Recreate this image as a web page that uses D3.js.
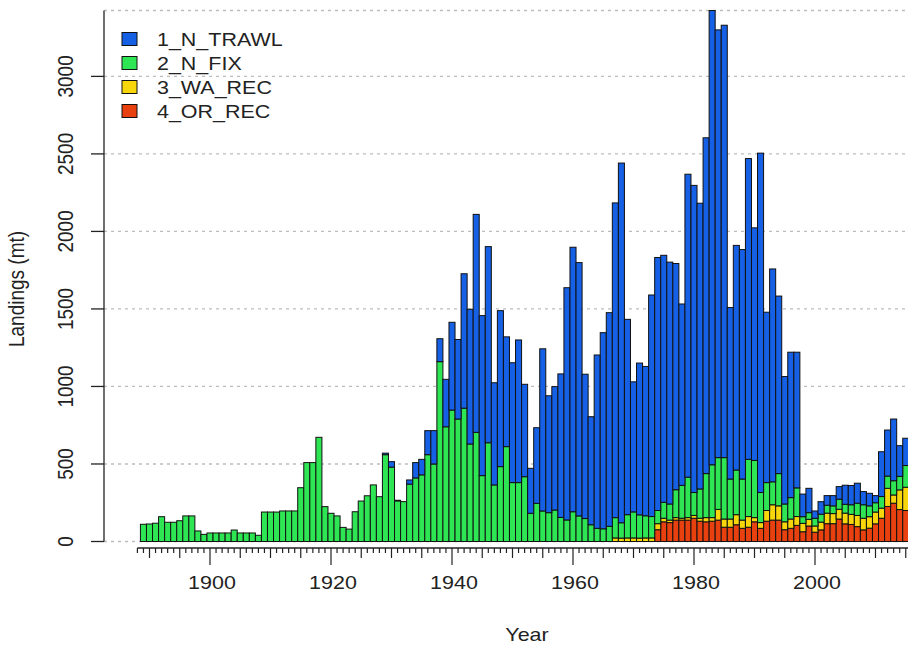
<!DOCTYPE html>
<html>
<head>
<meta charset="utf-8">
<script src="https://cdn.jsdelivr.net/npm/d3@7"></script>
<style>
  html, body { margin: 0; padding: 0; background: #fff; }
  svg { display: block; font-family: "Liberation Sans", Arial, sans-serif; }
</style>
</head>
<body>
<svg id="chart" width="908" height="650"></svg>
<script>
// Annual landings (mt) by fleet, 1889-2015
const firstYear = 1889;
const lastYear = 2015;

const nTrawl = [
  0,0,0,0,0,0,0,0,0,0,0, // 1889-1899
  0,0,0,0,0,0,0,0,0,0,   // 1900-1909
  0,0,0,0,0,0,0,0,0,0,   // 1910-1919
  0,0,0,0,0,0,0,0,0,10,  // 1920-1929
  35,4,0,27,99,100,155,215,148,306,            // 1930s
  566,513,867,869,1406,1032,1265,659,1006,708, // 1940s
  773,920,596,290,488,1046,754,796,926,1498,   // 1950s
  1706,1634,931,697,1118,1265,1378,2030,2320,1260, // 1960s
  839,979,963,1429,1632,1593,1560,1459,1170,1954,  // 1970s
  1981,1843,2166,2930,2759,2789,1106,1449,1480,1940, // 1980s
  1500,2189,1099,1373,1145,822,938,875,146,157,      // 1990s
  47,81,62,66,81,123,124,129,85,81,                  // 2000s
  46,289,297,398,198,176                             // 2010-2015
];

const nFix = [
  111,113,118,160,124,124,134,165,165,68,46,
  55,55,55,55,74,55,55,55,40,190,
  190,190,197,197,197,347,509,509,672,225,
  182,165,91,80,192,261,295,365,289,560,
  480,262,257,370,410,430,560,500,1160,740,
  848,790,860,629,704,425,637,365,483,612,
  380,380,418,182,246,197,186,203,155,139,
  192,165,148,108,85,82,98,131,99,150,
  168,150,143,138,85,103,104,180,212,261,
  148,189,284,341,334,396,258,288,265,369,
  369,194,180,148,208,115,138,185,43,43,
  50,51,51,50,65,57,62,79,87,70,
  60,75,79,92,87,140
];

const waRec = [
  0,0,0,0,0,0,0,0,0,0,0,
  0,0,0,0,0,0,0,0,0,0,
  0,0,0,0,0,0,0,0,0,0,
  0,0,0,0,0,0,0,0,0,0,
  0,0,0,0,0,0,0,0,0,0,
  0,0,0,0,0,0,0,0,0,0,
  0,0,0,0,0,0,0,0,0,0,
  0,0,0,0,0,0,0,23,22,23,
  23,22,23,23,39,23,16,16,12,16,
  18,19,27,23,69,53,53,65,53,69,
  27,37,69,99,92,51,60,57,54,43,
  40,50,68,65,63,69,65,72,75,74,
  76,65,117,53,127,150
];

const orRec = [
  0,0,0,0,0,0,0,0,0,0,0,
  0,0,0,0,0,0,0,0,0,0,
  0,0,0,0,0,0,0,0,0,0,
  0,0,0,0,0,0,0,0,0,0,
  0,0,0,0,0,0,0,0,0,0,
  0,0,0,0,0,0,0,0,0,0,
  0,0,0,0,0,0,0,0,0,0,
  0,0,0,0,0,0,0,0,0,0,
  0,0,0,0,76,127,122,138,138,138,
  150,131,127,131,138,92,92,108,85,92,
  127,85,131,138,138,76,85,104,63,100,
  60,75,115,115,145,114,110,96,75,86,
  114,150,226,247,206,200
];

const fleetNames = ["1_N_TRAWL", "2_N_FIX", "3_WA_REC", "4_OR_REC"];
const fleetColors = ["#1660e6", "#2ee653", "#f7d70c", "#e8400f"];
const yTicks = [0, 500, 1000, 1500, 2000, 2500, 3000];
const yTop = 3425;
const xLabelYears = [1900, 1920, 1940, 1960, 1980, 2000];

const years = d3.range(firstYear, lastYear + 1);
const rows = years.map((yr, i) => ({
  year: yr,
  "4_OR_REC": orRec[i],
  "3_WA_REC": waRec[i],
  "2_N_FIX": nFix[i],
  "1_N_TRAWL": nTrawl[i]
}));

const svg = d3.select("#chart");
svg.append("rect").attr("width", 908).attr("height", 650).attr("fill", "#fff");

// text is drawn slightly widened horizontally
const stretch = 1.13;
const fontSize = 19;

// year -> centre position
const xYear = d3.scaleLinear().domain([1900, 2000]).range([210, 815]);
const x = d3.scaleBand()
  .domain(years)
  .range([xYear(firstYear - 0.5), xYear(lastYear + 0.5)])
  .paddingInner(0).paddingOuter(0);
const y = d3.scaleLinear().domain([0, yTop]).range([541.5, 10.5]);

const plotLeft = 104;
const plotRight = 908;

// dashed horizontal reference lines
svg.append("g")
  .selectAll("line")
  .data(yTicks.concat([yTop]))
  .join("line")
  .attr("x1", plotLeft).attr("x2", plotRight)
  .attr("y1", d => y(d)).attr("y2", d => y(d))
  .attr("stroke", "#bdbdbd")
  .attr("stroke-width", 1.3)
  .attr("stroke-dasharray", "3,4");

// stacked bars: OR_REC at the bottom, N_TRAWL on top
const stackKeys = ["4_OR_REC", "3_WA_REC", "2_N_FIX", "1_N_TRAWL"];
const colorOf = d3.scaleOrdinal().domain(fleetNames).range(fleetColors);
const series = d3.stack().keys(stackKeys)(rows);

svg.append("g")
  .selectAll("g")
  .data(series)
  .join("g")
  .attr("fill", d => colorOf(d.key))
  .selectAll("rect")
  .data(d => d)
  .join("rect")
  .attr("x", d => x(d.data.year))
  .attr("width", x.bandwidth())
  .attr("y", d => y(d[1]))
  .attr("height", d => y(d[0]) - y(d[1]))
  .attr("stroke", "#111")
  .attr("stroke-width", 1);

// y axis
const yAxis = svg.append("g").attr("transform", `translate(${plotLeft},0)`);
yAxis.append("line")
  .attr("x1", 0).attr("x2", 0)
  .attr("y1", y(yTop)).attr("y2", y(0))
  .attr("stroke", "#222").attr("stroke-width", 1.3);
yAxis.selectAll("line.tick")
  .data(yTicks)
  .join("line")
  .attr("class", "tick")
  .attr("x1", 0).attr("x2", -13)
  .attr("y1", d => y(d)).attr("y2", d => y(d))
  .attr("stroke", "#222").attr("stroke-width", 1.3);
yAxis.selectAll("text")
  .data(yTicks)
  .join("text")
  .attr("transform", d => `translate(-39,${y(d)}) scale(${stretch},1) rotate(-90)`)
  .attr("text-anchor", "middle")
  .attr("dy", "0.36em")
  .attr("font-size", fontSize)
  .attr("fill", "#222")
  .text(d => d);

// x axis: yearly minor ticks, 5-year ticks and labelled 20-year ticks
const axisY = 548;
const tickYears = d3.range(1888, 2021);
const xAxis = svg.append("g").attr("transform", `translate(0,${axisY})`);
xAxis.append("line")
  .attr("x1", xYear(1888)).attr("x2", xYear(2020))
  .attr("y1", 0).attr("y2", 0)
  .attr("stroke", "#222").attr("stroke-width", 1.3);
xAxis.selectAll("line.tick")
  .data(tickYears)
  .join("line")
  .attr("class", "tick")
  .attr("x1", d => xYear(d)).attr("x2", d => xYear(d))
  .attr("y1", 0)
  .attr("y2", d => d % 20 === 0 ? 17 : (d % 5 === 0 ? 10 : 5))
  .attr("stroke", "#222").attr("stroke-width", 1.2);
xAxis.selectAll("text")
  .data(xLabelYears)
  .join("text")
  .attr("transform", d => `translate(${xYear(d) + 2},41) scale(${stretch},1)`)
  .attr("text-anchor", "middle")
  .attr("font-size", fontSize)
  .attr("fill", "#222")
  .text(d => d);

// axis titles
svg.append("text")
  .attr("transform", `translate(527,641) scale(${stretch},1)`)
  .attr("text-anchor", "middle")
  .attr("font-size", fontSize)
  .attr("fill", "#222")
  .text("Year");
svg.append("text")
  .attr("transform", `translate(24,289) scale(${stretch},1) rotate(-90)`)
  .attr("text-anchor", "middle")
  .attr("font-size", fontSize)
  .attr("fill", "#222")
  .text("Landings (mt)");

// legend
const legend = svg.append("g");
const legendRow = legend.selectAll("g")
  .data(fleetNames)
  .join("g")
  .attr("transform", (d, i) => `translate(122,${39 + i * 24})`);
legendRow.append("rect")
  .attr("x", 0).attr("y", -6.5)
  .attr("width", 15).attr("height", 13)
  .attr("fill", d => colorOf(d))
  .attr("stroke", "#111").attr("stroke-width", 1);
legendRow.append("text")
  .attr("transform", `translate(35,0) scale(${stretch},1)`)
  .attr("dy", "0.36em")
  .attr("font-size", fontSize)
  .attr("fill", "#222")
  .text(d => d);
</script>
</body>
</html>
